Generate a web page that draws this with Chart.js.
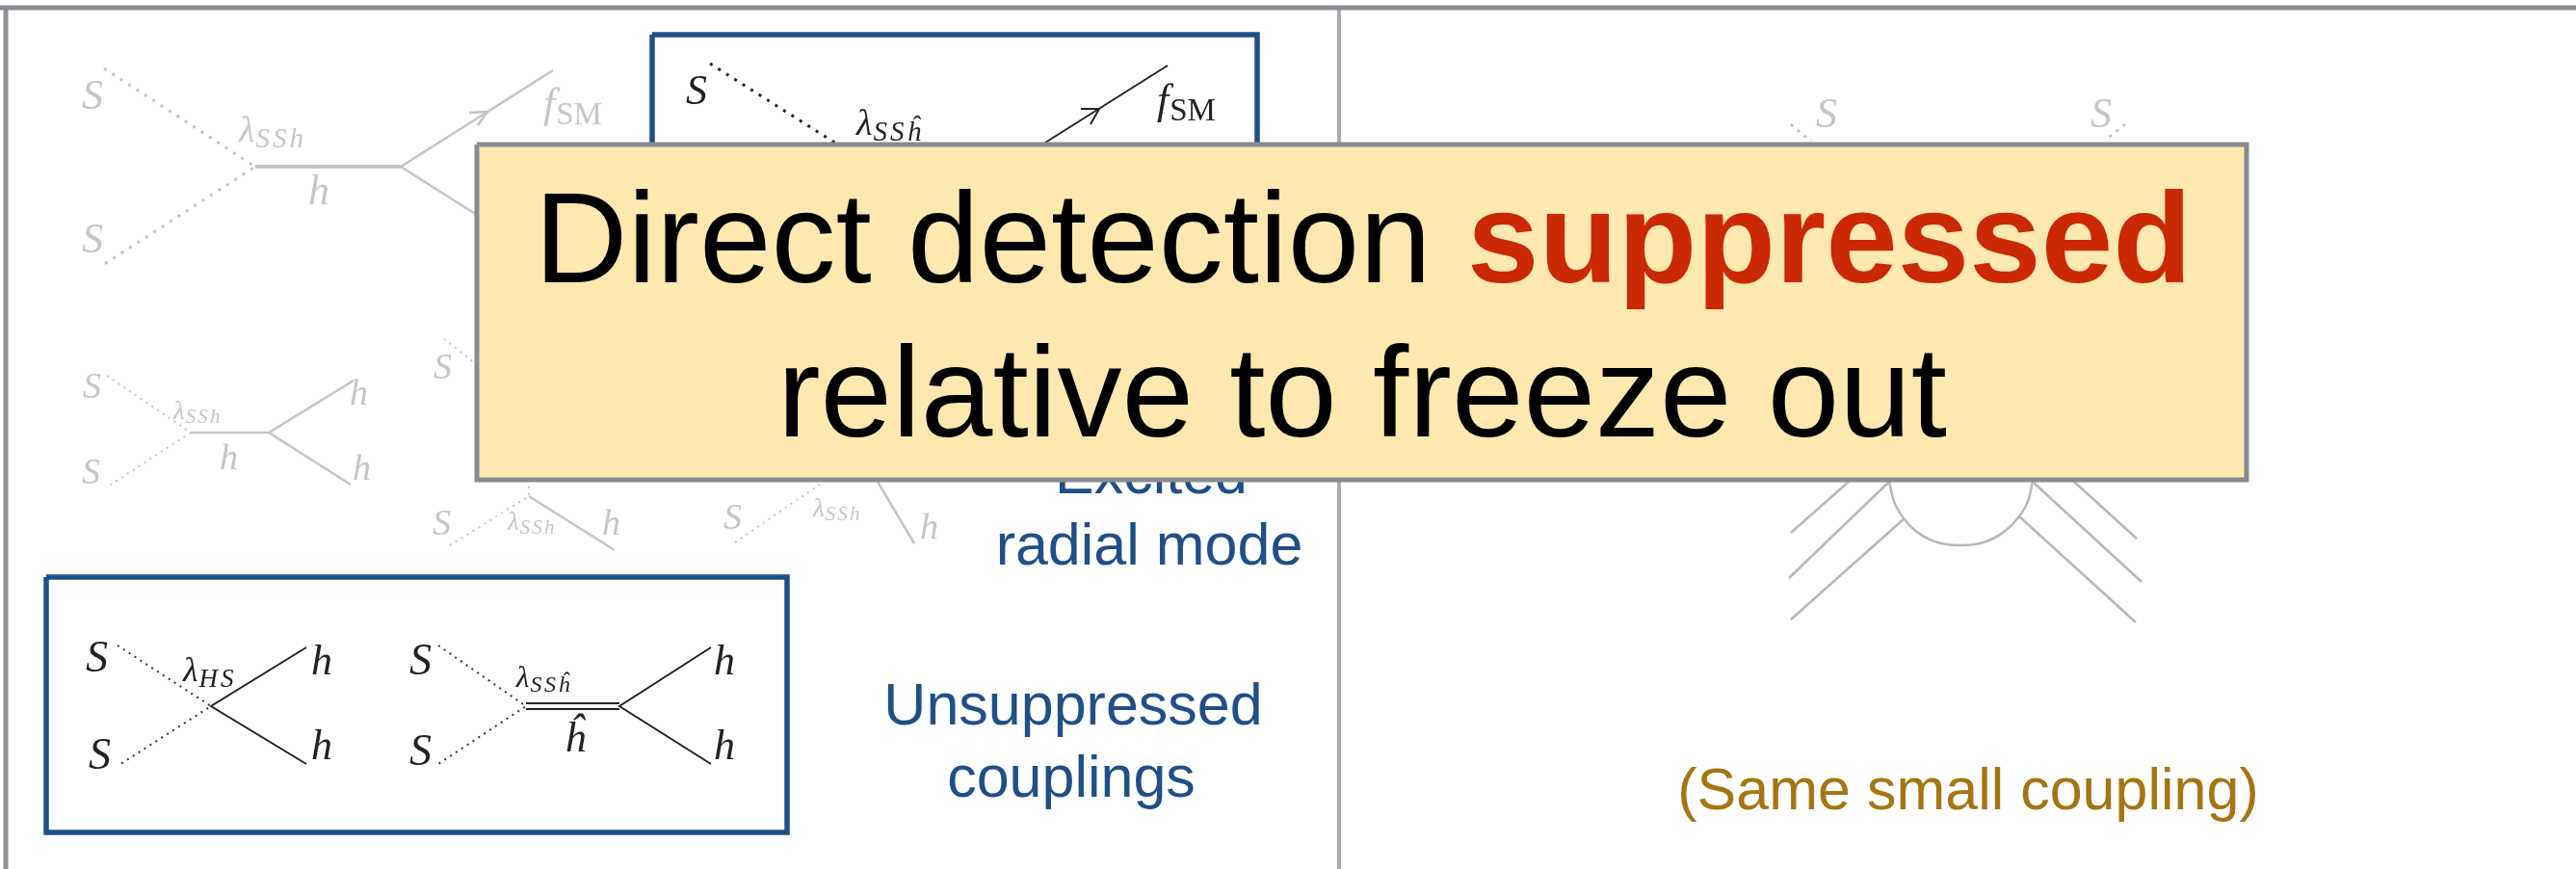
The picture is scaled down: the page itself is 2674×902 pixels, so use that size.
<!DOCTYPE html>
<html>
<head>
<meta charset="utf-8">
<title>Direct detection suppressed</title>
<script src="https://cdn.jsdelivr.net/npm/chart.js@4/dist/chart.umd.js"></script>
<style>
  html, body { margin: 0; padding: 0; background: #fff; overflow: hidden; }
  canvas { display: block; }
</style>
</head>
<body>
<canvas id="slide" width="2674" height="902"></canvas>
<script>
// every line below is [x, y] pairs, in picture pixels
const topLine = [[0, 8], [2674, 8]];
const leftLine = [[6, 8], [6, 902]];
const dividerLine = [[1390, 8], [1390, 902]];
const blueBoxes = [
  [[677, 36], [1305, 36], [1305, 300], [677, 300], [677, 36]],
  [[48, 599], [817, 599], [817, 864], [48, 864], [48, 599]]
];
const noticeBox = [[495, 150], [2332, 150], [2332, 498], [495, 498], [495, 150]];

// faded diagrams, top left and the three under the notice
const fadedDottedLarge = [
  [[108, 71], [265, 173], [107, 275]]
];
const fadedDotted = [
  [[111, 390], [198, 449], [112, 505]],
  [[461, 352], [549, 420], [549, 515], [464, 568]],
  [[763, 563], [855, 500]]
];
const fadedThick = [
  [[265, 173], [416, 173]]
];
const fadedSolid = [
  [[416, 173], [574, 73]],
  [[416, 173], [574, 273]],
  [[487, 117], [506, 116], [496, 130]],
  [[198, 449], [279, 449], [367, 395]],
  [[279, 449], [364, 503]],
  [[549, 515], [638, 571]],
  [[911, 500], [949, 564]]
];

// boxed diagrams in black
const blackDottedLarge = [
  [[737, 66], [906, 173]]
];
const blackDotted = [
  [[122, 670], [219, 733], [122, 795]],
  [[455, 670], [546, 733], [455, 793]]
];
const blackSolid = [
  [[1212, 68], [1085, 148]],
  [[1122, 113], [1141, 113], [1132, 129]],
  [[318, 672], [219, 733], [318, 793]],
  [[738, 672], [643, 733], [738, 793]],
  [[546, 730], [643, 730]],
  [[546, 736], [643, 736]]
];

// annihilation diagram on the right
const rightDotted = [
  [[1859, 129], [1880, 147]],
  [[2206, 129], [2187, 144]]
];
const rightSolid = [
  [[1919, 500], [1859, 553]],
  [[1961, 500], [1857, 600]],
  [[1977, 538], [1859, 643]],
  [[2153, 500], [2218, 559]],
  [[2110, 500], [2223, 604]],
  [[2096, 536], [2217, 646]]
];
const rightArc = [[1961, 500], [1968, 525], [1985, 548], [2008, 562], [2035, 566], [2062, 562], [2085, 548], [2103, 525], [2110, 500]];

// [main, subscript, x, baseline, size]
const fadedLabels = [
  ['S', '', 85, 113, 44], ['S', '', 85, 262, 44],
  ['λ', 'SSh', 248, 147, 38], ['h', '', 320, 212, 44], ['f', 'SM', 564, 122, 44],
  ['S', '', 86, 413, 38], ['S', '', 85, 502, 38],
  ['λ', 'SSh', 180, 435, 27], ['h', '', 228, 487, 38], ['h', '', 363, 420, 38], ['h', '', 366, 498, 38],
  ['S', '', 450, 393, 38], ['S', '', 449, 555, 38],
  ['λ', 'SSh', 527, 550, 27], ['h', '', 625, 555, 38],
  ['S', '', 751, 549, 38], ['λ', 'SSh', 844, 536, 27], ['h', '', 955, 559, 38],
  ['S', '', 1885, 132, 44], ['S', '', 2170, 132, 44]
];
const blackLabels = [
  ['S', '', 712, 108, 44], ['λ', 'SSĥ', 889, 140, 38], ['f', 'SM', 1201, 118, 44],
  ['S', '', 89, 697, 46], ['S', '', 92, 798, 46], ['λ', 'HS', 190, 707, 36],
  ['h', '', 323, 700, 44], ['h', '', 323, 788, 44],
  ['S', '', 425, 700, 46], ['S', '', 425, 794, 46], ['λ', 'SSĥ', 536, 713, 31],
  ['h', '', 741, 700, 44], ['h', '', 741, 788, 44], ['ĥ', '', 586, 780, 44]
];

// [text, centre x, baseline]
const blueCaptions = [
  ['Excited', 1195, 512], ['radial mode', 1193, 586],
  ['Unsuppressed', 1114, 752], ['couplings', 1112, 827]
];
const goldCaptions = [['(Same small coupling)', 2043, 840]];
const noticeLine1 = ['Direct detection ', 'suppressed'];
const noticeLine2 = 'relative to freeze out';

const SANS = '"Liberation Sans", Arial, sans-serif';
const SERIF = '"Liberation Serif", serif';

function toPoints(pairs) {
  return pairs.map(p => ({ x: p[0], y: p[1] }));
}

function strokeSets(lines, style) {
  return lines.map(line => Object.assign({
    data: toPoints(line),
    showLine: true,
    pointRadius: 0,
    borderCapStyle: 'butt',
    borderJoinStyle: 'miter'
  }, style));
}

// Chart.js paints the first dataset last, so the notice goes first
const datasets = [
  ...strokeSets([noticeBox], { label: 'notice', borderColor: '#888b8f', borderWidth: 5, fill: 'shape', backgroundColor: '#fde9b0' }),
  ...strokeSets(blueBoxes, { borderColor: '#1f4f87', borderWidth: 5.5 }),
  ...strokeSets([topLine], { borderColor: '#898c91', borderWidth: 5 }),
  ...strokeSets([leftLine], { borderColor: '#8f9296', borderWidth: 5 }),
  ...strokeSets([dividerLine], { borderColor: '#a9acaf', borderWidth: 4 }),
  ...strokeSets(blackSolid, { borderColor: '#222', borderWidth: 2 }),
  ...strokeSets(blackDottedLarge, { borderColor: '#222', borderWidth: 3, borderDash: [3, 7] }),
  ...strokeSets(blackDotted, { borderColor: '#333', borderWidth: 2, borderDash: [2, 5] }),
  ...strokeSets(fadedThick, { borderColor: '#c4c4c4', borderWidth: 4 }),
  ...strokeSets(fadedSolid, { borderColor: '#c4c4c4', borderWidth: 2.5 }),
  ...strokeSets(fadedDottedLarge, { borderColor: '#c4c4c4', borderWidth: 3, borderDash: [3, 7] }),
  ...strokeSets(fadedDotted, { borderColor: '#c4c4c4', borderWidth: 2, borderDash: [2, 5] }),
  ...strokeSets(rightSolid, { borderColor: '#b8b8b8', borderWidth: 2.5 }),
  ...strokeSets([rightArc], { borderColor: '#b8b8b8', borderWidth: 2.5, tension: 0.4 }),
  ...strokeSets(rightDotted, { borderColor: '#bbb', borderWidth: 2.5, borderDash: [3, 6] })
];

function drawMath(ctx, label, color, sx, sy) {
  const [main, sub, x, y, size] = label;
  const px = sx.getPixelForValue(x);
  const py = sy.getPixelForValue(y);
  ctx.fillStyle = color;
  ctx.font = 'italic ' + size + 'px ' + SERIF;
  ctx.fillText(main, px, py);
  if (!sub) return;
  const w = ctx.measureText(main).width;
  // f_SM has an upright subscript, the couplings have italic ones
  ctx.font = (sub === 'SM' ? '' : 'italic ') + Math.round(size * 0.76) + 'px ' + SERIF;
  ctx.letterSpacing = (sub === 'SM' ? 0 : size * 0.08) + 'px';
  ctx.fillText(sub, px + w + 1, py + size * 0.16);
  ctx.letterSpacing = '0px';
}

function drawCentred(ctx, rows, color, size, sx, sy) {
  ctx.fillStyle = color;
  ctx.font = size + 'px ' + SANS;
  ctx.textAlign = 'center';
  rows.forEach(r => {
    ctx.fillText(r[0], sx.getPixelForValue(r[1]), sy.getPixelForValue(r[2]));
  });
  ctx.textAlign = 'left';
}

// text under the notice box goes in before the datasets so the box hides it
const slideText = {
  id: 'slideText',
  beforeDatasetsDraw(chart) {
    const { ctx, scales: { x: sx, y: sy } } = chart;
    ctx.save();
    ctx.textBaseline = 'alphabetic';
    fadedLabels.forEach(l => drawMath(ctx, l, '#c6c6c6', sx, sy));
    blackLabels.forEach(l => drawMath(ctx, l, '#222', sx, sy));
    drawCentred(ctx, blueCaptions, '#1f4f87', 61, sx, sy);
    drawCentred(ctx, goldCaptions, '#a67511', 61, sx, sy);
    ctx.restore();
  },
  afterDatasetsDraw(chart) {
    const { ctx, scales: { x: sx, y: sy } } = chart;
    ctx.save();
    ctx.textBaseline = 'alphabetic';
    ctx.font = '134px ' + SANS;
    const w1 = ctx.measureText(noticeLine1[0]).width;
    ctx.font = 'bold 134px ' + SANS;
    const w2 = ctx.measureText(noticeLine1[1]).width;
    const left = sx.getPixelForValue(1415) - (w1 + w2) / 2;
    const base1 = sy.getPixelForValue(293);
    ctx.fillStyle = '#cb2805';
    ctx.fillText(noticeLine1[1], left + w1, base1);
    ctx.fillStyle = '#000';
    ctx.font = '134px ' + SANS;
    ctx.fillText(noticeLine1[0], left, base1);
    ctx.textAlign = 'center';
    ctx.fillText(noticeLine2, sx.getPixelForValue(1414), sy.getPixelForValue(453));
    ctx.restore();
  }
};

new Chart(document.getElementById('slide'), {
  type: 'scatter',
  data: { datasets: datasets },
  plugins: [slideText],
  options: {
    responsive: false,
    animation: false,
    devicePixelRatio: 1,
    layout: { padding: 0 },
    plugins: { legend: { display: false }, tooltip: { enabled: false } },
    scales: {
      x: { type: 'linear', display: false, min: 0, max: 2674 },
      y: { type: 'linear', display: false, min: 0, max: 902, reverse: true }
    }
  }
});
</script>
</body>
</html>
